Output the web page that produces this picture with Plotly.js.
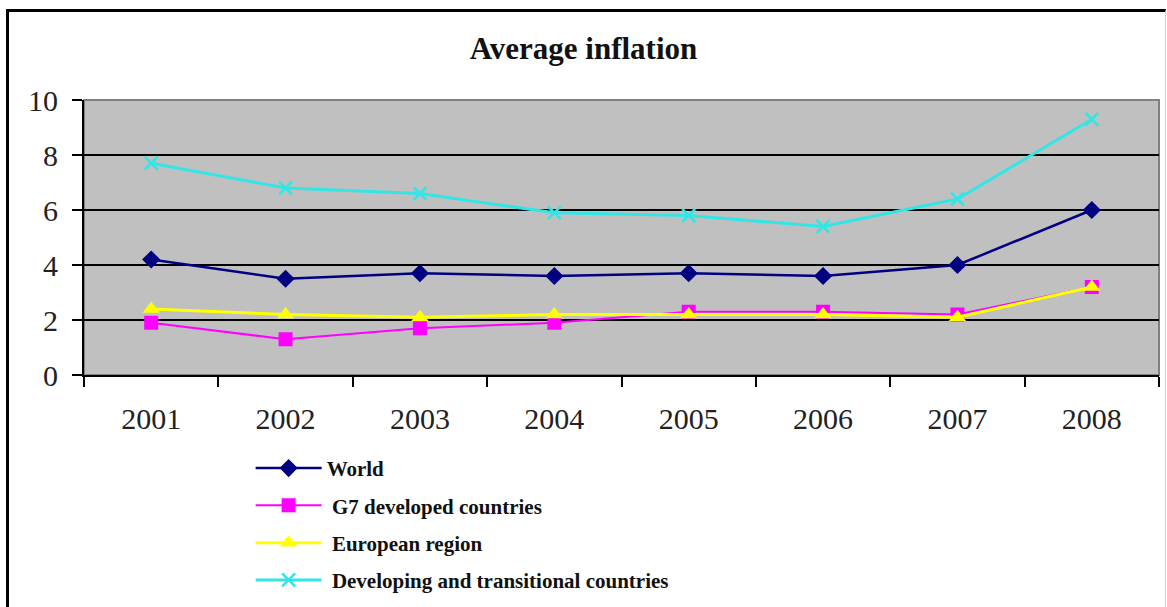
<!DOCTYPE html>
<html>
<head>
<meta charset="utf-8">
<script src="https://cdn.plot.ly/plotly-3.0.1.min.js"></script>
<style>
  html, body { margin: 0; padding: 0; background: #ffffff; }
  #wrap { position: relative; width: 1167px; height: 607px; overflow: hidden; }
  #chart { position: absolute; left: 0; top: 0; width: 1167px; height: 607px; }
  #frame {
    position: absolute; left: 6px; top: 9px; width: 1160px; height: 620px;
    border-left: 3px solid #000000; border-top: 3px solid #000000;
    border-right: 1px solid #d0d0d0;
    box-sizing: border-box; pointer-events: none;
  }
</style>
</head>
<body>
<div id="wrap">
  <div id="chart"></div>
  <div id="frame"></div>
</div>
<script>
// Average inflation by country group, 2001-2008 (%)
const years = ['2001', '2002', '2003', '2004', '2005', '2006', '2007', '2008'];
const worldValues = [4.2, 3.5, 3.7, 3.6, 3.7, 3.6, 4.0, 6.0];
const g7Values = [1.9, 1.3, 1.7, 1.9, 2.3, 2.3, 2.2, 3.2];
const europeValues = [2.4, 2.2, 2.1, 2.2, 2.2, 2.2, 2.1, 3.2];
const developingValues = [7.7, 6.8, 6.6, 5.9, 5.8, 5.4, 6.4, 9.3];
const seriesNames = [
  'World',
  '\u00a0G7 developed countries',
  '\u00a0European region',
  '\u00a0Developing and transitional countries'
];
const yTicks = [0, 2, 4, 6, 8, 10];

const serif = 'Liberation Serif, Times New Roman, serif';

function series(name, values, group, lineColor, lineWidth, marker) {
  return {
    type: 'scatter',
    mode: 'lines+markers',
    name: name,
    x: years,
    y: values,
    legendgroup: group,
    line: { color: lineColor, width: lineWidth },
    marker: marker,
    hoverinfo: 'x+y+name'
  };
}

const traces = [
  series(seriesNames[0], worldValues, 'g1', '#000080', 2.5,
    { symbol: 'diamond', size: 14, color: '#000080' }),
  series(seriesNames[1], g7Values, 'g2', '#ff00ff', 2,
    { symbol: 'square', size: 14, color: '#ff00ff' }),
  series(seriesNames[2], europeValues, 'g3', '#ffff00', 3,
    { symbol: 'triangle-up', size: 15, color: '#ffff00' }),
  series(seriesNames[3], developingValues, 'g4', '#33e6e6', 3,
    { symbol: 'x-thin-open', size: 13, color: '#33e6e6', line: { color: '#33e6e6', width: 2.5 } })
];

const layout = {
  width: 1167,
  height: 607,
  margin: { l: 84, r: 8, t: 100, b: 232, autoexpand: false },
  paper_bgcolor: '#ffffff',
  plot_bgcolor: '#c0c0c0',
  showlegend: true,
  title: {
    text: 'Average inflation',
    font: { family: serif, size: 31, color: '#111111', weight: 'bold' },
    xref: 'container',
    x: 0.5,
    xanchor: 'center',
    yref: 'container',
    y: 0.921,
    yanchor: 'middle'
  },
  xaxis: {
    type: 'category',
    categoryorder: 'array',
    categoryarray: years,
    range: [-0.5, 7.5],
    tickson: 'boundaries',
    tickangle: 0,
    ticks: 'outside',
    ticklen: 10,
    tickwidth: 2,
    tickcolor: '#000000',
    showline: true,
    linecolor: '#000000',
    linewidth: 2,
    showgrid: false,
    zeroline: false,
    ticklabelstandoff: 16,
    tickfont: { family: serif, size: 30, color: '#222222' },
    fixedrange: true
  },
  yaxis: {
    range: [0, 10],
    tickvals: yTicks,
    ticktext: yTicks.map(String),
    ticks: 'outside',
    ticklen: 10,
    tickwidth: 2,
    tickcolor: '#000000',
    showline: true,
    linecolor: '#000000',
    linewidth: 2,
    showgrid: true,
    gridcolor: '#000000',
    gridwidth: 2,
    zeroline: false,
    ticklabelstandoff: 8,
    tickfont: { family: serif, size: 30, color: '#222222' },
    fixedrange: true
  },
  legend: {
    x: 0.155,
    xanchor: 'left',
    y: -0.265,
    yanchor: 'top',
    traceorder: 'grouped',
    tracegroupgap: 7,
    bgcolor: 'rgba(0,0,0,0)',
    font: { family: serif, size: 21, color: '#111111', weight: 'bold' },
    itemwidth: 66
  },
  shapes: [
    // plot area border (top and right)
    {
      type: 'rect', xref: 'paper', yref: 'paper',
      x0: 0, x1: 1, y0: 0, y1: 1,
      line: { color: '#808080', width: 2 }, layer: 'between'
    }
  ]
};

Plotly.newPlot('chart', traces, layout, { displayModeBar: false, staticPlot: true });
</script>
</body>
</html>
